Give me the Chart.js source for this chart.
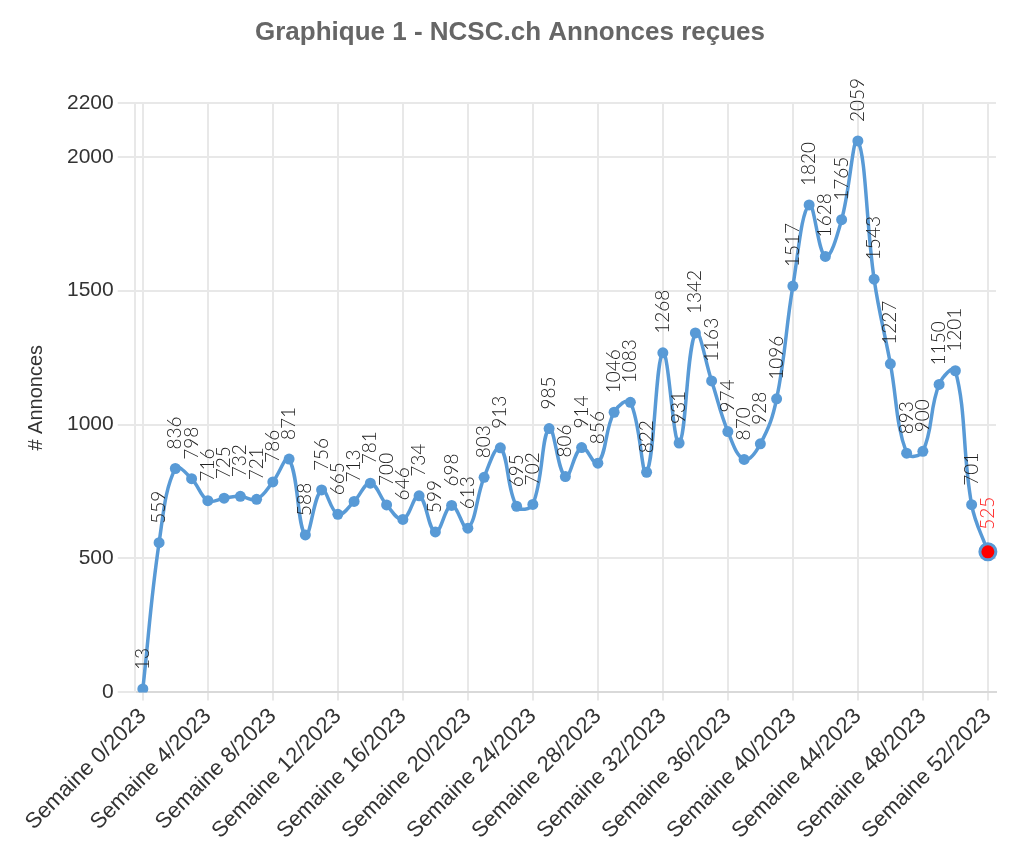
<!DOCTYPE html>
<html>
<head>
<meta charset="utf-8">
<script src="https://cdn.jsdelivr.net/npm/chart.js@4/dist/chart.umd.min.js"></script>
<style>
  html, body { margin: 0; padding: 0; background: #fff; }
  #wrap { width: 1024px; height: 854px; }
</style>
</head>
<body>
<div id="wrap"><canvas id="ncsc-chart"></canvas></div>
<script>
const weeks = [];
for (let i = 0; i <= 52; i++) weeks.push('Semaine ' + i + '/2023');

const reports = [
  13, 559, 836, 798, 716, 725, 732, 721, 786, 871,
  588, 756, 665, 713, 781, 700, 646, 734, 599, 698,
  613, 803, 913, 695, 702, 985, 806, 914, 856, 1046,
  1083, 822, 1268, 931, 1342, 1163, 974, 870, 928, 1096,
  1517, 1820, 1628, 1765, 2059, 1543, 1227, 893, 900, 1150,
  1201, 701, 525
];

const yTicks = [0, 500, 1000, 1500, 2000, 2200];

const lineBlue = 'rgb(88, 154, 214)';
const last = reports.length - 1;

// vertical value labels above each point
const valueLabels = {
  id: 'valueLabels',
  afterDatasetsDraw(chart) {
    const ctx = chart.ctx;
    const meta = chart.getDatasetMeta(0);
    ctx.save();
    ctx.font = "300 19px Lato, 'Open Sans', sans-serif";
    ctx.textAlign = 'left';
    ctx.textBaseline = 'middle';
    meta.data.forEach((pt, i) => {
      ctx.save();
      ctx.translate(pt.x, pt.y - (i === last ? 22 : 19));
      ctx.rotate(-Math.PI / 2);
      ctx.fillStyle = i === last ? 'rgb(255, 30, 30)' : '#222';
      ctx.fillText(String(reports[i]), 0, 0);
      ctx.restore();
    });
    ctx.restore();
  }
};

const config = {
  type: 'line',
  data: {
    labels: weeks,
    datasets: [{
      label: 'Annonces',
      data: reports,
      borderColor: lineBlue,
      backgroundColor: lineBlue,
      borderWidth: 3.5,
      tension: 0.4,
      pointRadius: reports.map((v, i) => i === last ? 8 : 5.5),
      pointBackgroundColor: reports.map((v, i) => i === last ? 'rgb(255, 0, 0)' : lineBlue),
      pointBorderColor: lineBlue,
      pointBorderWidth: reports.map((v, i) => i === last ? 3 : 0)
    }]
  },
  options: {
    responsive: true,
    maintainAspectRatio: false,
    animation: false,
    layout: {
      padding: { left: 24, right: 28, top: 0, bottom: 7 }
    },
    plugins: {
      legend: { display: false },
      tooltip: { enabled: false },
      title: {
        display: true,
        text: 'Graphique 1 - NCSC.ch Annonces reçues',
        color: '#666',
        font: { family: "'Liberation Sans', Arial, sans-serif", size: 26, weight: 'bold' },
        padding: { top: 17, bottom: 55 }
      }
    },
    scales: {
      x: {
        offset: true,
        grid: {
          color: '#e8e8e8',
          lineWidth: 2,
          tickLength: 8
        },
        border: { color: '#d9d9d9', width: 2 },
        ticks: {
          autoSkip: false,
          maxRotation: 45,
          minRotation: 45,
          color: '#333',
          font: { family: "'Liberation Sans', Arial, sans-serif", size: 22 },
          callback: function(value, index) {
            return index % 4 === 0 ? this.getLabelForValue(value) : null;
          }
        }
      },
      y: {
        min: 0,
        max: 2200,
        afterBuildTicks: scale => {
          scale.ticks = yTicks.map(v => ({ value: v }));
        },
        grid: {
          color: '#e8e8e8',
          lineWidth: 2,
          tickLength: 17
        },
        border: { color: '#e8e8e8', width: 2 },
        title: {
          display: true,
          text: '# Annonces',
          color: '#333',
          font: { family: "'Liberation Sans', Arial, sans-serif", size: 20 },
          padding: { top: 0, bottom: 15 }
        },
        ticks: {
          color: '#333',
          padding: 4,
          font: { family: "'Liberation Sans', Arial, sans-serif", size: 21 },
          callback: value => String(value)
        }
      }
    }
  },
  plugins: [valueLabels]
};

const ncscChart = new Chart(document.getElementById('ncsc-chart'), config);
</script>
</body>
</html>
